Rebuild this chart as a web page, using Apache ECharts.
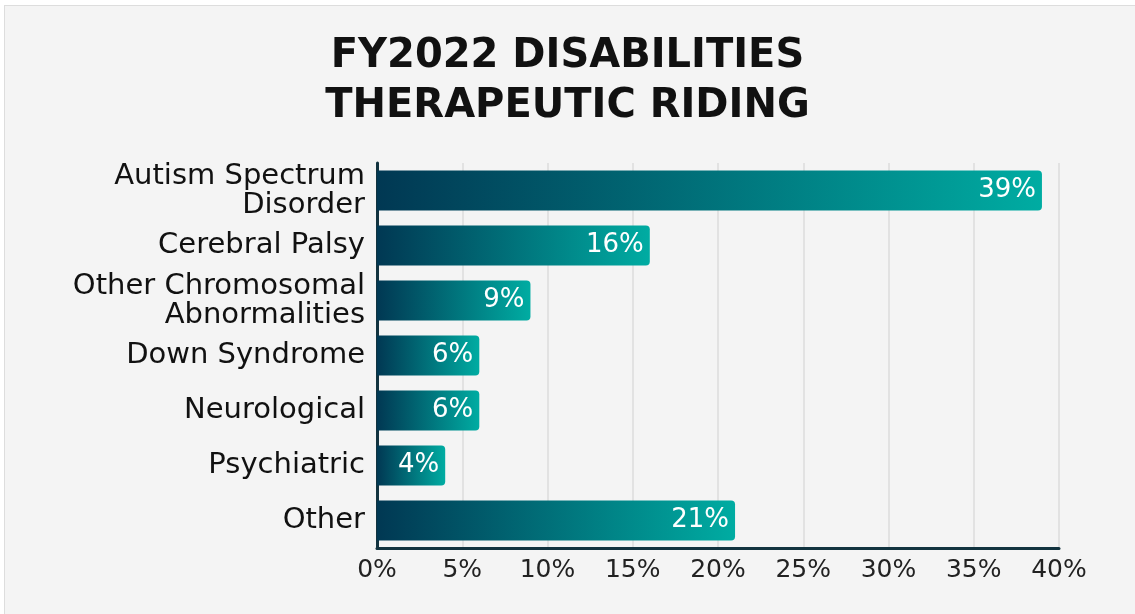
<!DOCTYPE html>
<html lang="en">
<head>
	<meta charset="UTF-8">
	<title>FY2022 Disabilities</title>
	<script src="https://cdn.jsdelivr.net/npm/echarts@6/dist/echarts.min.js"></script>
	<style>
		html,body{margin:0;height:100%;background:#fff;}
		#panel{position:absolute;left:4px;top:5px;right:0;bottom:0;background:#f4f4f4;border-left:1px solid #ddd;border-top:1px solid #ddd;}
		#chart{position:absolute;left:-5px;top:-6px;width:1135px;height:614px;}
	</style>
</head>
<body>
	<div id="panel"><div id="chart"></div></div>
	<script>
	// data, top to bottom as in the picture
	var categories = ['Autism Spectrum\nDisorder', 'Cerebral Palsy', 'Other Chromosomal\nAbnormalities', 'Down Syndrome', 'Neurological', 'Psychiatric', 'Other'];
	var percents = [39, 16, 9, 6, 6, 4, 21];
	var ticks = [0, 5, 10, 15, 20, 25, 30, 35, 40];

	var font = 'DejaVu Sans';
	var myChart = echarts.init(document.getElementById('chart'));

	var option = {
		title: {
			text: 'FY2022 DISABILITIES\nTHERAPEUTIC RIDING',
			left: 'center',
			top: 27,
			textStyle: {
				fontFamily: font,
				fontSize: 40,
				fontWeight: 'bold',
				color: '#111',
				lineHeight: 50
			}
		},
		grid: { left: 377, right: 76, top: 163, bottom: 66, containLabel: false },
		xAxis: {
			type: 'value',
			min: ticks[0],
			max: ticks[ticks.length - 1],
			interval: 5,
			axisLine: { show: true, lineStyle: { color: '#12333f', width: 3 } },
			axisTick: { show: false },
			splitLine: { lineStyle: { color: '#dcdcdc', width: 1.5 } },
			axisLabel: {
				formatter: '{value}%',
				fontFamily: font,
				fontSize: 25,
				color: '#222',
				margin: 10
			}
		},
		yAxis: {
			type: 'category',
			inverse: true,
			data: categories,
			axisLine: { show: true, lineStyle: { color: '#12333f', width: 3 } },
			axisTick: { show: false },
			axisLabel: {
				fontFamily: font,
				fontSize: 29,
				lineHeight: 29,
				color: '#111',
				margin: 12,
				align: 'right'
			}
		},
		series: [{
			type: 'bar',
			data: percents,
			barCategoryGap: '27%',
			itemStyle: {
				borderRadius: [0, 4, 4, 0],
				color: new echarts.graphic.LinearGradient(0, 0, 1, 0, [
					{ offset: 0, color: '#013853' },
					{ offset: 1, color: '#00aca2' }
				])
			},
			label: {
				show: true,
				position: 'insideRight',
				distance: 6,
				formatter: '{c}%',
				fontFamily: font,
				fontSize: 26,
				color: '#fff'
			},
			animation: false
		}]
	};

	myChart.setOption(option);
	</script>
</body>
</html>
